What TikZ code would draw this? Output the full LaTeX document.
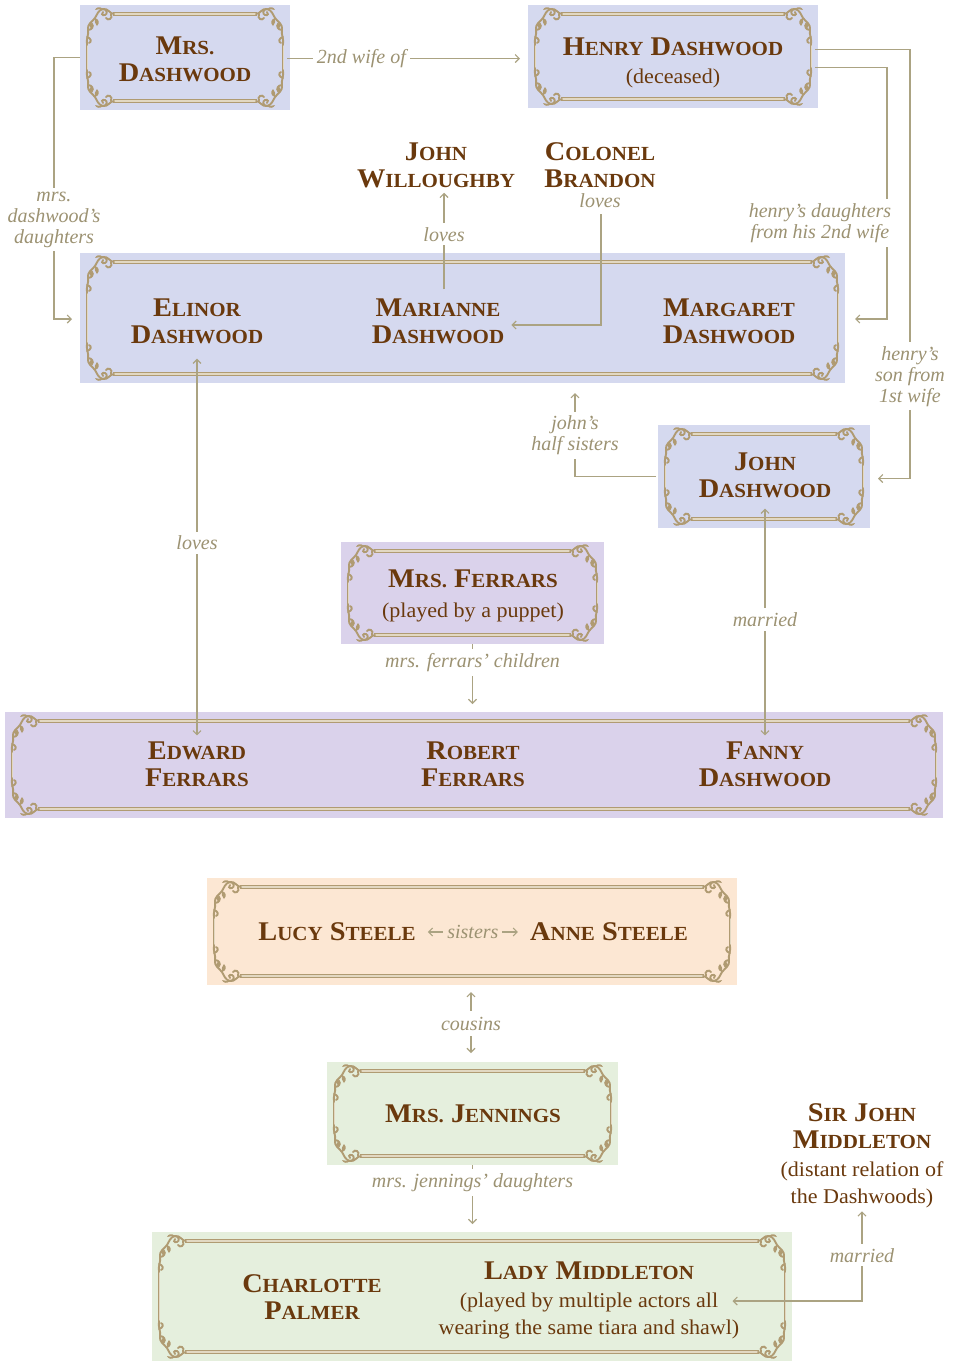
\documentclass[tikz,border=0pt]{standalone}
\usepackage{fontspec}
\setmainfont{Liberation Serif}
\newfontfamily\namefont{Liberation Serif}[FakeStretch=1.05]
\usetikzlibrary{arrows.meta,calc}
\definecolor{bluebox}{HTML}{D5D9EF}
\definecolor{lavbox}{HTML}{DAD2EB}
\definecolor{peachbox}{HTML}{FCE7D3}
\definecolor{greenbox}{HTML}{E5EFDD}
\definecolor{namec}{HTML}{6A390D}
\definecolor{labc}{HTML}{9C9272}
\definecolor{linec}{HTML}{ABA382}
\definecolor{framec}{HTML}{B09B72}
\definecolor{framel}{HTML}{E2D8C2}
\newcommand\SC[2]{{\fontsize{27}{27}\selectfont #1}{\fontsize{20}{20}\selectfont #2}}
\newcommand\subt[1]{{\mdseries\fontsize{21}{27}\selectfont #1}}
\newcommand\corn{%
  \draw[orn] (34,9) .. controls (30,9) and (28,3) .. (23,4) .. controls (18,5) and (17,10) .. (15,13)
     .. controls (12,17) and (7,19) .. (8,25) .. controls (9,30) and (6,33) .. (7,40);
  \draw[orn] (23,4) .. controls (27,4) and (28,9) .. (25,10) .. controls (22,11) and (21,8) .. (23,7);
  \draw[orn] (8,25) .. controls (12,25) and (14,21) .. (12,19) .. controls (10,18) and (9,21) .. (11,22);
  \draw[orn] (31,9) .. controls (33,14) and (28,16) .. (26,13);
  \draw[orn] (7,32) .. controls (11,33) and (12,37) .. (9,38);
  \fill[framec] (15,13) .. controls (19,14) and (20,18) .. (17,21) .. controls (15,18) and (14,16) .. (15,13);
  \fill[framec] (23,4) .. controls (20,1) and (16,2) .. (15,5) .. controls (18,4) and (21,4) .. (23,4);
}
\newcommand\ornbox[6]{%
  \node[fbox, fill=#6, minimum width={(#4-#2)*1pt}, minimum height={(#5-#3)*1pt}] (#1) at ({(#2+#4)/2},{(#3+#5)/2}) {};
  \draw[hband] ({#2+33},{#3+9}) -- ({#4-33},{#3+9}) ({#2+33},{#5-9}) -- ({#4-33},{#5-9});
  \draw[hbandl] ({#2+33},{#3+9}) -- ({#4-33},{#3+9}) ({#2+33},{#5-9}) -- ({#4-33},{#5-9});
  \draw[vband] ({#2+7},{#3+40}) -- ({#2+7},{#5-40}) ({#4-7},{#3+40}) -- ({#4-7},{#5-40});
  \draw[vbandl] ({#2+7},{#3+40}) -- ({#2+7},{#5-40}) ({#4-7},{#3+40}) -- ({#4-7},{#5-40});
  \begin{scope}[shift={(#2,#3)}]\corn\end{scope}
  \begin{scope}[shift={(#4,#3)},xscale=-1]\corn\end{scope}
  \begin{scope}[shift={(#2,#5)},yscale=-1]\corn\end{scope}
  \begin{scope}[shift={(#4,#5)},xscale=-1,yscale=-1]\corn\end{scope}
}
\tikzset{
  fbox/.style={rectangle, draw=none, inner sep=0pt, outer sep=0pt},
  orn/.style={framec, line width=1.9pt, line cap=round},
  hband/.style={framec, line width=3.8pt},
  hbandl/.style={framel, line width=1.3pt},
  vband/.style={framec, line width=2.8pt},
  vbandl/.style={framel, line width=0.8pt},
  pname/.style={font=\namefont\bfseries\fontsize{27}{27}\selectfont, text=namec, align=center, inner sep=1pt},
  lab/.style={font=\itshape\fontsize{20}{21}\selectfont, text=labc, fill=white, inner sep=4pt, align=center},
  con/.style={linec, line width=1.1pt},
  tip/.style={-{Straight Barb[length=4pt,width=8pt]}},
  tips/.style={{Straight Barb[length=4pt,width=8pt]}-{Straight Barb[length=4pt,width=8pt]}},
}
\begin{document}
\begin{tikzpicture}[x=1pt,y=-1pt]
\useasboundingbox (0,0) rectangle (954,1361);
\fill[white] (0,0) rectangle (954,1361);
% boxes
\ornbox{A}{80}{5}{290}{110}{bluebox}
\ornbox{B}{528}{5}{818}{108}{bluebox}
\ornbox{C}{80}{253}{845}{383}{bluebox}
\ornbox{D}{658}{425}{870}{528}{bluebox}
\ornbox{E}{341}{542}{604}{644}{lavbox}
\ornbox{F}{5}{712}{943}{818}{lavbox}
\ornbox{G}{207}{878}{737}{985}{peachbox}
\ornbox{H}{327}{1062}{618}{1165}{greenbox}
\ornbox{I}{152}{1232}{792}{1361}{greenbox}
% names
\node[pname] (mrsd) at (185,59) {\SC{M}{RS.}\\\SC{D}{ASHWOOD}};
\node[pname] (henry) at (673,63) {\SC{H}{ENRY} \SC{D}{ASHWOOD}\\[1pt]\subt{(deceased)}};
\node[pname] (willoughby) at (436,165) {\SC{J}{OHN}\\\SC{W}{ILLOUGHBY}};
\node[pname] (brandon) at (600,165) {\SC{C}{OLONEL}\\\SC{B}{RANDON}};
\node[lab, fill=none, inner sep=2pt] (brandonlab) at (600,201) {loves};
\node[pname] (elinor) at (197,321) {\SC{E}{LINOR}\\\SC{D}{ASHWOOD}};
\node[pname] (marianne) at (438,321) {\SC{M}{ARIANNE}\\\SC{D}{ASHWOOD}};
\node[pname] (margaret) at (729,321) {\SC{M}{ARGARET}\\\SC{D}{ASHWOOD}};
\node[pname] (johnd) at (765,475) {\SC{J}{OHN}\\\SC{D}{ASHWOOD}};
\node[pname] (mrsf) at (473,596) {\SC{M}{RS.} \SC{F}{ERRARS}\\[3pt]\subt{(played by a puppet)}};
\node[pname] (edward) at (197,764) {\SC{E}{DWARD}\\\SC{F}{ERRARS}};
\node[pname] (robert) at (473,764) {\SC{R}{OBERT}\\\SC{F}{ERRARS}};
\node[pname] (fanny) at (765,764) {\SC{F}{ANNY}\\\SC{D}{ASHWOOD}};
\node[pname] (lucy) at (337,932) {\SC{L}{UCY} \SC{S}{TEELE}};
\node[pname] (anne) at (609,932) {\SC{A}{NNE} \SC{S}{TEELE}};
\node[pname] (jennings) at (473,1114) {\SC{M}{RS.} \SC{J}{ENNINGS}};
\node[pname] (sirjohn) at (862,1156) {\SC{S}{IR} \SC{J}{OHN}\\\SC{M}{IDDLETON}\\[1pt]\subt{(distant relation of}\\\subt{the Dashwoods)}};
\node[pname] (charlotte) at (312,1297) {\SC{C}{HARLOTTE}\\\SC{P}{ALMER}};
\node[pname] (lady) at (589,1300) {\SC{L}{ADY} \SC{M}{IDDLETON}\\[1pt]\subt{(played by multiple actors all}\\\subt{wearing the same tiara and shawl)}};
% connectors
\draw[con,tip,shorten <=-3pt,shorten >=8pt] ([yshift=-1pt]A.east) -- ([yshift=-1pt]A.east -| B.west)
   node[lab, pos=0.3] {2nd wife of};
\draw[con,tip,shorten >=8pt] (A.west) -- ++(-26,0) |- ([yshift=-1pt]C.west)
   node[lab, pos=0.31] {mrs.\\dashwood’s\\daughters};
\draw[con,tip,shorten <=-3pt,shorten >=10pt] ([yshift=-11pt]B.east) -- ++(69,0) |- ([yshift=-1pt]C.east);
\node[lab] (hdlab) at (820,223) {henry’s daughters\\from his 2nd wife};
\draw[con,tip,shorten <=-3pt,shorten >=8pt] ([yshift=7pt]B.east) -- ++(92,0) |- ([yshift=-2pt]D.east)
   node[lab, pos=0.381] {henry’s\\son from\\1st wife};
\draw[con,tip] ([xshift=6pt,yshift=8pt]marianne.north) -- ([xshift=8pt,yshift=-4pt]willoughby.south)
   node[lab, pos=0.57] {loves};
\draw[con,tip,shorten <=4pt,shorten >=6pt] ([xshift=1pt]brandonlab.south) |- ([yshift=-4pt]marianne.east);
\draw[con,tip,shorten <=2pt,shorten >=10pt] (D.west) -| ([xshift=112.5pt]C.south)
   node[lab, pos=0.72] {john’s\\half sisters};
\draw[con,tips,shorten <=14pt,shorten >=5pt] (elinor.south) -- (edward.north)
   node[lab, midway] {loves};
\draw[con,tips,shorten <=10pt,shorten >=5pt] (johnd.south) -- (fanny.north)
   node[lab, midway] {married};
\draw[con,tip,shorten >=8pt] (E.south) -- (E.south |- F.north)
   node[lab, pos=0.27] {mrs. ferrars’ children};
\draw[con,tips,shorten <=11pt,shorten >=11pt] (lucy.east) -- (anne.west)
   node[lab, midway, fill=peachbox, inner sep=4pt] {sisters};
\draw[con,tips,shorten <=7pt,shorten >=9pt] ([xshift=-1pt]G.south) -- ([xshift=-1pt]G.south |- H.north)
   node[lab, midway, inner sep=6pt] {cousins};
\draw[con,tip,shorten >=8pt] (H.south) -- (H.south |- I.north)
   node[lab, pos=0.26] {mrs. jennings’ daughters};
\draw[con,tips,shorten <=2pt,shorten >=-8pt] (sirjohn.south) |- ([yshift=-1pt]lady.east)
   node[lab, pos=0.25] {married};
\end{tikzpicture}
\end{document}
